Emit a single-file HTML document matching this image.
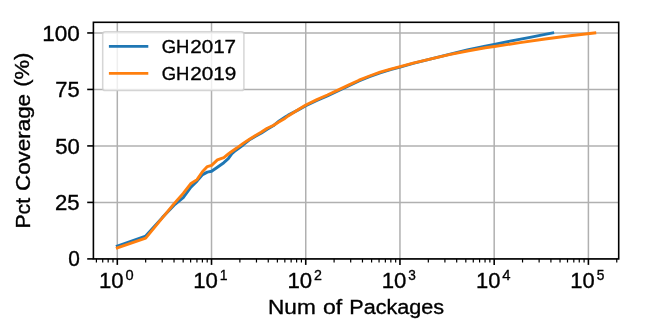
<!DOCTYPE html>
<html lang="en">
<head>
<meta charset="utf-8">
<title>Pct Coverage vs Num of Packages</title>
<style>
html,body{margin:0;padding:0;background:#fff;}
body{width:664px;height:332px;overflow:hidden;font-family:"Liberation Sans",sans-serif;}
svg text{fill:#000;stroke:#000;stroke-width:0.35px;}
</style>
</head>
<body>
<svg width="664" height="332" viewBox="0 0 664 332" style="display:block;will-change:transform;font-family:'Liberation Sans',sans-serif">
<rect width="664" height="332" fill="#fff"/>
<g stroke="#b0b0b0" stroke-width="1.5" fill="none">
<line x1="117.30" x2="117.30" y1="22.3" y2="258.9"/>
<line x1="211.52" x2="211.52" y1="22.3" y2="258.9"/>
<line x1="305.74" x2="305.74" y1="22.3" y2="258.9"/>
<line x1="399.96" x2="399.96" y1="22.3" y2="258.9"/>
<line x1="494.18" x2="494.18" y1="22.3" y2="258.9"/>
<line x1="588.40" x2="588.40" y1="22.3" y2="258.9"/>
<line x1="93.4" x2="618.7" y1="258.90" y2="258.90"/>
<line x1="93.4" x2="618.7" y1="202.41" y2="202.41"/>
<line x1="93.4" x2="618.7" y1="145.92" y2="145.92"/>
<line x1="93.4" x2="618.7" y1="89.44" y2="89.44"/>
<line x1="93.4" x2="618.7" y1="32.95" y2="32.95"/>
</g>
<polyline points="117.3,246.0 145.7,236.0 162.3,217.6 174.1,205.2 183.2,197.6 190.9,187.1 197.2,180.9 202.6,174.6 207.3,172.1 211.6,171.3 217.4,167.2 223.8,162.7 228.3,158.7 231.9,153.6 234.5,151.3 238.0,148.8 243.1,145.0 249.1,140.1 255.1,136.4 261.1,133.3 267.2,129.3 273.2,125.8 279.2,120.9 285.2,117.0 288.2,115.1 298.8,109.6 305.8,105.8 316.9,100.5 327.4,95.9 337.9,91.0 348.5,86.0 359.0,81.0 369.5,76.7 380.1,72.8 390.6,69.6 400.1,67.1 413.1,63.4 431.1,58.8 449.2,54.3 467.3,50.0 485.3,46.1 494.3,44.4 510.0,41.2 530.0,37.3 545.0,34.4 552.7,32.9" fill="none" stroke="#1f77b4" stroke-width="2.9" stroke-linejoin="round" stroke-linecap="square"/>
<polyline points="117.3,247.9 145.7,238.1 174.1,203.6 183.2,193.4 190.6,183.8 197.0,179.6 202.4,171.7 207.3,166.6 211.6,165.4 217.4,159.9 223.8,157.6 228.3,154.0 231.0,152.0 237.1,147.8 243.1,143.4 249.1,139.5 255.1,135.7 261.1,132.2 267.2,128.2 273.2,125.5 279.2,121.8 285.2,118.2 288.2,115.9 298.8,109.3 305.8,105.0 316.9,99.6 327.4,95.0 337.9,90.1 348.5,85.1 359.0,80.2 369.5,76.0 380.1,72.2 390.6,69.1 400.1,66.7 413.1,63.2 431.1,58.8 449.2,54.7 467.3,51.0 485.3,47.8 494.3,46.5 520.0,42.6 545.0,39.0 570.0,35.8 594.8,32.9" fill="none" stroke="#ff7f0e" stroke-width="2.9" stroke-linejoin="round" stroke-linecap="square"/>
<g stroke="#000" fill="none">
<line x1="117.30" x2="117.30" y1="258.9" y2="264.9" stroke-width="1.6"/>
<line x1="211.52" x2="211.52" y1="258.9" y2="264.9" stroke-width="1.6"/>
<line x1="305.74" x2="305.74" y1="258.9" y2="264.9" stroke-width="1.6"/>
<line x1="399.96" x2="399.96" y1="258.9" y2="264.9" stroke-width="1.6"/>
<line x1="494.18" x2="494.18" y1="258.9" y2="264.9" stroke-width="1.6"/>
<line x1="588.40" x2="588.40" y1="258.9" y2="264.9" stroke-width="1.6"/>
<line x1="96.40" x2="96.40" y1="258.9" y2="262.5" stroke-width="1.2"/>
<line x1="102.71" x2="102.71" y1="258.9" y2="262.5" stroke-width="1.2"/>
<line x1="108.17" x2="108.17" y1="258.9" y2="262.5" stroke-width="1.2"/>
<line x1="112.99" x2="112.99" y1="258.9" y2="262.5" stroke-width="1.2"/>
<line x1="145.66" x2="145.66" y1="258.9" y2="262.5" stroke-width="1.2"/>
<line x1="162.25" x2="162.25" y1="258.9" y2="262.5" stroke-width="1.2"/>
<line x1="174.03" x2="174.03" y1="258.9" y2="262.5" stroke-width="1.2"/>
<line x1="183.16" x2="183.16" y1="258.9" y2="262.5" stroke-width="1.2"/>
<line x1="190.62" x2="190.62" y1="258.9" y2="262.5" stroke-width="1.2"/>
<line x1="196.93" x2="196.93" y1="258.9" y2="262.5" stroke-width="1.2"/>
<line x1="202.39" x2="202.39" y1="258.9" y2="262.5" stroke-width="1.2"/>
<line x1="207.21" x2="207.21" y1="258.9" y2="262.5" stroke-width="1.2"/>
<line x1="239.88" x2="239.88" y1="258.9" y2="262.5" stroke-width="1.2"/>
<line x1="256.47" x2="256.47" y1="258.9" y2="262.5" stroke-width="1.2"/>
<line x1="268.25" x2="268.25" y1="258.9" y2="262.5" stroke-width="1.2"/>
<line x1="277.38" x2="277.38" y1="258.9" y2="262.5" stroke-width="1.2"/>
<line x1="284.84" x2="284.84" y1="258.9" y2="262.5" stroke-width="1.2"/>
<line x1="291.15" x2="291.15" y1="258.9" y2="262.5" stroke-width="1.2"/>
<line x1="296.61" x2="296.61" y1="258.9" y2="262.5" stroke-width="1.2"/>
<line x1="301.43" x2="301.43" y1="258.9" y2="262.5" stroke-width="1.2"/>
<line x1="334.10" x2="334.10" y1="258.9" y2="262.5" stroke-width="1.2"/>
<line x1="350.69" x2="350.69" y1="258.9" y2="262.5" stroke-width="1.2"/>
<line x1="362.47" x2="362.47" y1="258.9" y2="262.5" stroke-width="1.2"/>
<line x1="371.60" x2="371.60" y1="258.9" y2="262.5" stroke-width="1.2"/>
<line x1="379.06" x2="379.06" y1="258.9" y2="262.5" stroke-width="1.2"/>
<line x1="385.37" x2="385.37" y1="258.9" y2="262.5" stroke-width="1.2"/>
<line x1="390.83" x2="390.83" y1="258.9" y2="262.5" stroke-width="1.2"/>
<line x1="395.65" x2="395.65" y1="258.9" y2="262.5" stroke-width="1.2"/>
<line x1="428.32" x2="428.32" y1="258.9" y2="262.5" stroke-width="1.2"/>
<line x1="444.91" x2="444.91" y1="258.9" y2="262.5" stroke-width="1.2"/>
<line x1="456.69" x2="456.69" y1="258.9" y2="262.5" stroke-width="1.2"/>
<line x1="465.82" x2="465.82" y1="258.9" y2="262.5" stroke-width="1.2"/>
<line x1="473.28" x2="473.28" y1="258.9" y2="262.5" stroke-width="1.2"/>
<line x1="479.59" x2="479.59" y1="258.9" y2="262.5" stroke-width="1.2"/>
<line x1="485.05" x2="485.05" y1="258.9" y2="262.5" stroke-width="1.2"/>
<line x1="489.87" x2="489.87" y1="258.9" y2="262.5" stroke-width="1.2"/>
<line x1="522.54" x2="522.54" y1="258.9" y2="262.5" stroke-width="1.2"/>
<line x1="539.13" x2="539.13" y1="258.9" y2="262.5" stroke-width="1.2"/>
<line x1="550.91" x2="550.91" y1="258.9" y2="262.5" stroke-width="1.2"/>
<line x1="560.04" x2="560.04" y1="258.9" y2="262.5" stroke-width="1.2"/>
<line x1="567.50" x2="567.50" y1="258.9" y2="262.5" stroke-width="1.2"/>
<line x1="573.81" x2="573.81" y1="258.9" y2="262.5" stroke-width="1.2"/>
<line x1="579.27" x2="579.27" y1="258.9" y2="262.5" stroke-width="1.2"/>
<line x1="584.09" x2="584.09" y1="258.9" y2="262.5" stroke-width="1.2"/>
<line x1="616.76" x2="616.76" y1="258.9" y2="262.5" stroke-width="1.2"/>
<line x1="87.2" x2="93.4" y1="258.90" y2="258.90" stroke-width="1.6"/>
<line x1="87.2" x2="93.4" y1="202.41" y2="202.41" stroke-width="1.6"/>
<line x1="87.2" x2="93.4" y1="145.92" y2="145.92" stroke-width="1.6"/>
<line x1="87.2" x2="93.4" y1="89.44" y2="89.44" stroke-width="1.6"/>
<line x1="87.2" x2="93.4" y1="32.95" y2="32.95" stroke-width="1.6"/>
</g>
<rect x="93.4" y="22.3" width="525.3000000000001" height="236.59999999999997" fill="none" stroke="#000" stroke-width="1.6"/>
<rect x="102.7" y="31.7" width="141.2" height="58.8" rx="2.6" ry="2.6" fill="#fff" fill-opacity="0.8" stroke="#ccc" stroke-opacity="0.8" stroke-width="1.5"/>
<line x1="108.9" x2="148.3" y1="46.4" y2="46.4" stroke="#1f77b4" stroke-width="2.9"/>
<line x1="108.9" x2="148.3" y1="73.4" y2="73.4" stroke="#ff7f0e" stroke-width="2.9"/>
<text font-size="21.48" textLength="11.64" lengthAdjust="spacingAndGlyphs" x="68.25" y="266.25">0</text>
<text font-size="21.48" textLength="24.63" lengthAdjust="spacingAndGlyphs" x="55.00" y="209.75">25</text>
<text font-size="21.48" textLength="24.59" lengthAdjust="spacingAndGlyphs" x="55.25" y="153.50">50</text>
<text font-size="21.48" textLength="24.38" lengthAdjust="spacingAndGlyphs" x="55.25" y="97.00">75</text>
<text font-size="21.48" textLength="37.64" lengthAdjust="spacingAndGlyphs" x="42.25" y="40.50">100</text>
<text font-size="22.2" textLength="24.70" lengthAdjust="spacingAndGlyphs" x="99.00" y="288.00">10</text>
<text font-size="15.39" textLength="8.13" lengthAdjust="spacingAndGlyphs" x="125.50" y="280.20">0</text>
<text font-size="22.2" textLength="24.70" lengthAdjust="spacingAndGlyphs" x="193.25" y="288.00">10</text>
<text font-size="15.39" textLength="7.81" lengthAdjust="spacingAndGlyphs" x="219.75" y="280.20">1</text>
<text font-size="22.2" textLength="24.70" lengthAdjust="spacingAndGlyphs" x="287.50" y="288.00">10</text>
<text font-size="15.39" textLength="7.92" lengthAdjust="spacingAndGlyphs" x="314.00" y="280.20">2</text>
<text font-size="22.2" textLength="24.70" lengthAdjust="spacingAndGlyphs" x="381.75" y="288.00">10</text>
<text font-size="15.39" textLength="7.60" lengthAdjust="spacingAndGlyphs" x="408.25" y="280.20">3</text>
<text font-size="22.2" textLength="24.45" lengthAdjust="spacingAndGlyphs" x="476.00" y="288.00">10</text>
<text font-size="15.39" textLength="8.28" lengthAdjust="spacingAndGlyphs" x="502.25" y="280.20">4</text>
<text font-size="22.2" textLength="24.45" lengthAdjust="spacingAndGlyphs" x="570.25" y="288.00">10</text>
<text font-size="15.39" textLength="7.64" lengthAdjust="spacingAndGlyphs" x="596.75" y="280.20">5</text>
<text font-size="20.75" textLength="47.70" lengthAdjust="spacingAndGlyphs" x="268.00" y="314.25">Num</text>
<text font-size="20.75" textLength="19.26" lengthAdjust="spacingAndGlyphs" x="323.00" y="314.25">of</text>
<text font-size="20.75" textLength="94.79" lengthAdjust="spacingAndGlyphs" x="349.25" y="314.25">Packages</text>
<text font-size="20.59" textLength="30.58" lengthAdjust="spacingAndGlyphs" transform="translate(30.25,228.50) rotate(-90)">Pct</text>
<text font-size="20.59" textLength="97.03" lengthAdjust="spacingAndGlyphs" transform="translate(30.12,191.00) rotate(-90)">Coverage</text>
<text font-size="20.59" textLength="34.17" lengthAdjust="spacingAndGlyphs" transform="translate(29.38,86.75) rotate(-90)">(%)</text>
<text font-size="18.72" textLength="27.67" lengthAdjust="spacingAndGlyphs" x="161.75" y="52.75">GH</text>
<text font-size="18.72" textLength="45.80" lengthAdjust="spacingAndGlyphs" x="190.25" y="52.75">2017</text>
<text font-size="18.72" textLength="27.67" lengthAdjust="spacingAndGlyphs" x="161.75" y="79.75">GH</text>
<text font-size="18.72" textLength="46.05" lengthAdjust="spacingAndGlyphs" x="190.25" y="79.75">2019</text>
</svg>
</body>
</html>
